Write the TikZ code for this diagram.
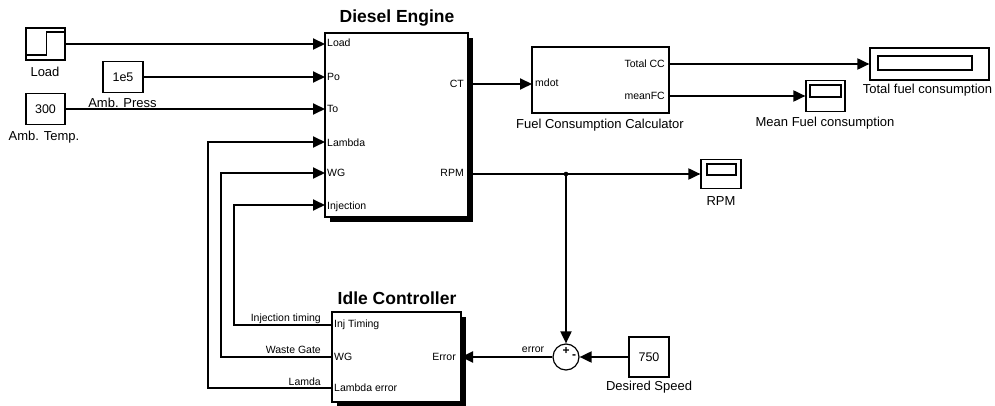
\documentclass[tikz,border=0pt]{standalone}
\usepackage{fontspec}
\setmainfont{Liberation Sans}
\usetikzlibrary{arrows.meta,shadows}
\begin{document}
\begin{tikzpicture}[x=1pt,y=-1pt,
  blk/.style={draw, line width=1.2pt, fill=white, inner sep=0pt},
  shadowed/.style={general shadow={fill=black, shadow xshift=5pt, shadow yshift=-5pt}},
  sig/.style={line width=1.9pt, -{Triangle[length=12pt,width=11pt]}},
  wire/.style={line width=1.9pt},
  port/.style={font=\fontsize{10.5}{12}\selectfont, inner sep=0pt},
  lbl/.style={font=\fontsize{13}{15}\selectfont, inner sep=0pt},
  ttl/.style={font=\bfseries\fontsize{17.5}{20}\selectfont, inner sep=0pt},
  val/.style={font=\fontsize{12.5}{14}\selectfont},
  sgn/.style={font=\fontsize{12}{12}\selectfont\bfseries, inner sep=0pt}
]
\useasboundingbox (0,0) rectangle (995,406);

% ---------- sources ----------
\node[blk, minimum width=39pt, minimum height=32pt] (load) at (45.5,44) {};
\draw[line width=1.2pt] (27,55) -- (46.5,55) -- (46.5,32) -- (64,32);
\node[lbl] (loadL) at (45,71.5) {Load};

\node[blk, val, minimum width=40pt, minimum height=31pt] (press) at (123,77) {1e5};
\node[lbl, anchor=base] (pressL) at (122.5,108) {Amb. Press};

\node[blk, val, minimum width=39pt, minimum height=31pt] (temp) at (45.5,109) {300};
\node[lbl] (tempL) at (44,137) {Amb. Temp.};

% ---------- Diesel Engine ----------
\node[blk, shadowed, minimum width=143pt, minimum height=184pt] (eng) at (396.5,125) {};
\node[ttl] (engT) at (397,18) {Diesel Engine};
\coordinate (eLoad) at (325,44);
\coordinate (ePo)   at (325,77);
\coordinate (eTo)   at (325,109);
\coordinate (eLam)  at (325,142);
\coordinate (eWG)   at (325,173);
\coordinate (eInj)  at (325,205);
\coordinate (eCT)   at (468,84);
\coordinate (eRPM)  at (468,174);
\node[port, anchor=west] at (327,43)  {Load};
\node[port, anchor=west] at (327,77)  {Po};
\node[port, anchor=west] at (327,109) {To};
\node[port, anchor=west] at (327,143) {Lambda};
\node[port, anchor=west] at (327,173) {WG};
\node[port, anchor=west] at (327,207) {Injection};
\node[port, anchor=east] at (464,84)  {CT};
\node[port, anchor=east] at (464,173) {RPM};

% ---------- Fuel Consumption Calculator ----------
\node[blk, minimum width=137pt, minimum height=66pt] (fcc) at (600.5,80) {};
\node[lbl] (fccL) at (600,125) {Fuel Consumption Calculator};
\coordinate (fIn)  at (532,84);
\coordinate (fTot) at (669,64);
\coordinate (fMean) at (669,96);
\node[port, anchor=west] at (535,83) {mdot};
\node[port, anchor=east] at (665,64) {Total CC};
\node[port, anchor=east] at (665,96) {meanFC};

% ---------- displays ----------
\node[blk, minimum width=119pt, minimum height=32pt] (tot) at (929.5,64) {};
\draw[line width=1.2pt] (878,56) rectangle (972,70);
\node[lbl] (totL) at (927.5,90) {Total fuel consumption};

\node[blk, minimum width=39pt, minimum height=31pt] (mean) at (825.5,96) {};
\draw[line width=1.2pt] (810,85) rectangle (841,97);
\node[lbl] (meanL) at (825,123) {Mean Fuel consumption};

\node[blk, minimum width=40pt, minimum height=29pt] (rpmD) at (721,174) {};
\draw[line width=1.2pt] (707,164) rectangle (736,175);
\node[lbl] (rpmL) at (721,201) {RPM};

% ---------- sum and desired speed ----------
\node[draw, circle, line width=1.2pt, fill=white, minimum size=26pt, inner sep=0pt] (sum) at (566,357) {};
\node[sgn] at (566,350.5) {+};
\node[sgn] at (574,357) {-};
\coordinate (jn) at (566,174);

\node[blk, val, minimum width=40pt, minimum height=40pt] (des) at (649,357) {750};
\node[lbl] (desL) at (649,387) {Desired Speed};

% ---------- Idle Controller ----------
\node[blk, shadowed, minimum width=129pt, minimum height=90pt] (ic) at (396.5,357) {};
\node[ttl] (icT) at (397,298) {Idle Controller};
\coordinate (iInj) at (332,325);
\coordinate (iWG)  at (332,357);
\coordinate (iLam) at (332,388);
\coordinate (iErr) at (461,357);
\node[port, anchor=west] at (334,325) {Inj Timing};
\node[port, anchor=west] at (334,357) {WG};
\node[port, anchor=west] at (334,388) {Lambda error};
\node[port, anchor=east] at (456,357) {Error};

% ---------- connectors ----------
\draw[sig] (load) -- (eLoad);
\draw[sig] (press) -- (ePo);
\draw[sig] (temp) -- (eTo);
\draw[sig] (eCT) -- (fIn);
\draw[sig] (fTot) -- (tot);
\draw[sig] (fMean) -- (mean);
\draw[wire] (eRPM) -- (jn);
\draw[sig] (jn) -- (rpmD);
\draw[sig] (jn) -- (sum);
\fill (jn) circle (2.3pt);
\draw[sig] (des) -- (sum);
\draw[sig] (sum) -- (iErr);
\node[port, anchor=base] at (533,352) {error};

\draw[sig] (iInj) -| (234,205) -- (eInj);
\draw[sig] (iWG)  -| (221,173) -- (eWG);
\draw[sig] (iLam) -| (208,142) -- (eLam);
\node[port, anchor=base east] at (321,321) {Injection timing};
\node[port, anchor=base east] at (321,353) {Waste Gate};
\node[port, anchor=base east] at (321,385) {Lamda};
\end{tikzpicture}
\end{document}
